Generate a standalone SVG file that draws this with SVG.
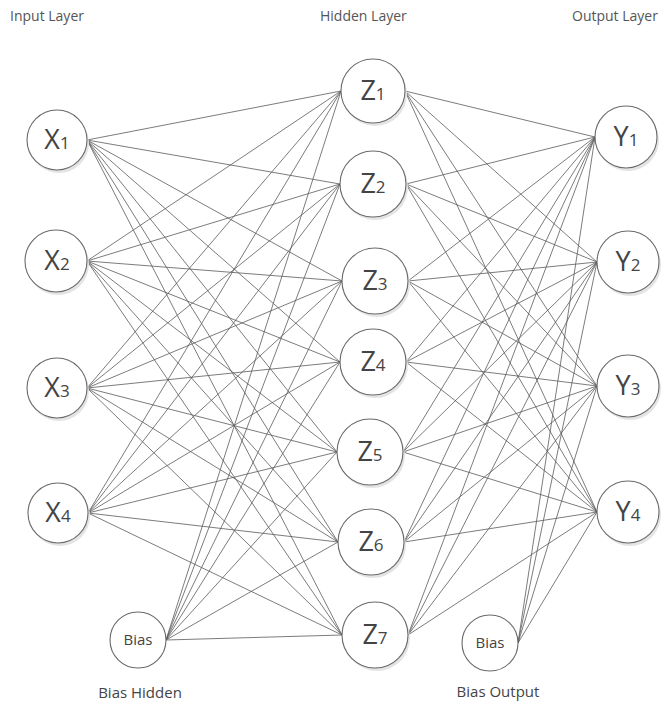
<svg xmlns="http://www.w3.org/2000/svg" width="667" height="704" viewBox="0 0 667 704">
<style>
.bg{fill:#fff}
.e{stroke:#5a5a5a;stroke-width:0.8;fill:none}
.n{fill:#fff;stroke:#6a6a6a;stroke-width:1.1}
.sh{fill:#e4e4e4}
.t{font-family:"Open Sans","Liberation Sans",sans-serif;fill:#444}
.big{font-size:27px}
.sub{font-size:17px}
.hdr{font-size:14px;fill:#555}
.bias{font-size:15px}
.cap{font-size:15px}
</style>
<rect class="bg" width="667" height="704"/>
<g id="headers">
<text class="t hdr" x="10" y="21">Input Layer</text>
<text class="t hdr" x="320" y="21">Hidden Layer</text>
<text class="t hdr" x="572" y="21">Output Layer</text>
</g>
<g id="connectors">
<line class="e" x1="87" y1="140" x2="341" y2="91"/>
<line class="e" x1="87" y1="140" x2="340" y2="184"/>
<line class="e" x1="87" y1="140" x2="342" y2="281"/>
<line class="e" x1="87" y1="140" x2="340" y2="362"/>
<line class="e" x1="87" y1="140" x2="337" y2="452"/>
<line class="e" x1="87" y1="140" x2="338" y2="542"/>
<line class="e" x1="87" y1="140" x2="342" y2="635"/>
<line class="e" x1="87" y1="261" x2="341" y2="91"/>
<line class="e" x1="87" y1="261" x2="340" y2="184"/>
<line class="e" x1="87" y1="261" x2="342" y2="281"/>
<line class="e" x1="87" y1="261" x2="340" y2="362"/>
<line class="e" x1="87" y1="261" x2="337" y2="452"/>
<line class="e" x1="87" y1="261" x2="338" y2="542"/>
<line class="e" x1="87" y1="261" x2="342" y2="635"/>
<line class="e" x1="87" y1="388" x2="341" y2="91"/>
<line class="e" x1="87" y1="388" x2="340" y2="184"/>
<line class="e" x1="87" y1="388" x2="342" y2="281"/>
<line class="e" x1="87" y1="388" x2="340" y2="362"/>
<line class="e" x1="87" y1="388" x2="337" y2="452"/>
<line class="e" x1="87" y1="388" x2="338" y2="542"/>
<line class="e" x1="87" y1="388" x2="342" y2="635"/>
<line class="e" x1="88" y1="513" x2="341" y2="91"/>
<line class="e" x1="88" y1="513" x2="340" y2="184"/>
<line class="e" x1="88" y1="513" x2="342" y2="281"/>
<line class="e" x1="88" y1="513" x2="340" y2="362"/>
<line class="e" x1="88" y1="513" x2="337" y2="452"/>
<line class="e" x1="88" y1="513" x2="338" y2="542"/>
<line class="e" x1="88" y1="513" x2="342" y2="635"/>
<line class="e" x1="166" y1="640" x2="341" y2="91"/>
<line class="e" x1="166" y1="640" x2="340" y2="184"/>
<line class="e" x1="166" y1="640" x2="342" y2="281"/>
<line class="e" x1="166" y1="640" x2="340" y2="362"/>
<line class="e" x1="166" y1="640" x2="337" y2="452"/>
<line class="e" x1="166" y1="640" x2="338" y2="542"/>
<line class="e" x1="166" y1="640" x2="342" y2="635"/>
<line class="e" x1="405" y1="91" x2="595" y2="137"/>
<line class="e" x1="405" y1="91" x2="597" y2="262"/>
<line class="e" x1="405" y1="91" x2="597" y2="386"/>
<line class="e" x1="405" y1="91" x2="597" y2="512"/>
<line class="e" x1="406" y1="184" x2="595" y2="137"/>
<line class="e" x1="406" y1="184" x2="597" y2="262"/>
<line class="e" x1="406" y1="184" x2="597" y2="386"/>
<line class="e" x1="406" y1="184" x2="597" y2="512"/>
<line class="e" x1="408" y1="281" x2="595" y2="137"/>
<line class="e" x1="408" y1="281" x2="597" y2="262"/>
<line class="e" x1="408" y1="281" x2="597" y2="386"/>
<line class="e" x1="408" y1="281" x2="597" y2="512"/>
<line class="e" x1="406" y1="362" x2="595" y2="137"/>
<line class="e" x1="406" y1="362" x2="597" y2="262"/>
<line class="e" x1="406" y1="362" x2="597" y2="386"/>
<line class="e" x1="406" y1="362" x2="597" y2="512"/>
<line class="e" x1="403" y1="452" x2="595" y2="137"/>
<line class="e" x1="403" y1="452" x2="597" y2="262"/>
<line class="e" x1="403" y1="452" x2="597" y2="386"/>
<line class="e" x1="403" y1="452" x2="597" y2="512"/>
<line class="e" x1="404" y1="542" x2="595" y2="137"/>
<line class="e" x1="404" y1="542" x2="597" y2="262"/>
<line class="e" x1="404" y1="542" x2="597" y2="386"/>
<line class="e" x1="404" y1="542" x2="597" y2="512"/>
<line class="e" x1="408" y1="635" x2="595" y2="137"/>
<line class="e" x1="408" y1="635" x2="597" y2="262"/>
<line class="e" x1="408" y1="635" x2="597" y2="386"/>
<line class="e" x1="408" y1="635" x2="597" y2="512"/>
<line class="e" x1="518" y1="643" x2="595" y2="137"/>
<line class="e" x1="518" y1="643" x2="597" y2="262"/>
<line class="e" x1="518" y1="643" x2="597" y2="386"/>
<line class="e" x1="518" y1="643" x2="597" y2="512"/>
</g>
<g id="X1"><circle class="sh" cx="59" cy="143" r="30"/><circle class="n" cx="57" cy="140" r="30"/><text class="t" x="57" y="149" text-anchor="middle"><tspan class="big">X</tspan><tspan class="sub">1</tspan></text></g>
<g id="X2"><circle class="sh" cx="58" cy="264" r="31"/><circle class="n" cx="56" cy="261" r="31"/><text class="t" x="57" y="270" text-anchor="middle"><tspan class="big">X</tspan><tspan class="sub">2</tspan></text></g>
<g id="X3"><circle class="sh" cx="59" cy="391" r="30"/><circle class="n" cx="57" cy="388" r="30"/><text class="t" x="57" y="397" text-anchor="middle"><tspan class="big">X</tspan><tspan class="sub">3</tspan></text></g>
<g id="X4"><circle class="sh" cx="60" cy="516" r="30"/><circle class="n" cx="58" cy="513" r="30"/><text class="t" x="58" y="522" text-anchor="middle"><tspan class="big">X</tspan><tspan class="sub">4</tspan></text></g>
<g id="Z1"><circle class="sh" cx="375" cy="94" r="32"/><circle class="n" cx="373" cy="91" r="32"/><text class="t" x="373" y="100" text-anchor="middle"><tspan class="big">Z</tspan><tspan class="sub">1</tspan></text></g>
<g id="Z2"><circle class="sh" cx="375" cy="187" r="33"/><circle class="n" cx="373" cy="184" r="33"/><text class="t" x="373" y="193" text-anchor="middle"><tspan class="big">Z</tspan><tspan class="sub">2</tspan></text></g>
<g id="Z3"><circle class="sh" cx="377" cy="284" r="33"/><circle class="n" cx="375" cy="281" r="33"/><text class="t" x="375" y="290" text-anchor="middle"><tspan class="big">Z</tspan><tspan class="sub">3</tspan></text></g>
<g id="Z4"><circle class="sh" cx="375" cy="365" r="33"/><circle class="n" cx="373" cy="362" r="33"/><text class="t" x="373" y="371" text-anchor="middle"><tspan class="big">Z</tspan><tspan class="sub">4</tspan></text></g>
<g id="Z5"><circle class="sh" cx="372" cy="455" r="33"/><circle class="n" cx="370" cy="452" r="33"/><text class="t" x="370" y="461" text-anchor="middle"><tspan class="big">Z</tspan><tspan class="sub">5</tspan></text></g>
<g id="Z6"><circle class="sh" cx="373" cy="545" r="33"/><circle class="n" cx="371" cy="542" r="33"/><text class="t" x="371" y="551" text-anchor="middle"><tspan class="big">Z</tspan><tspan class="sub">6</tspan></text></g>
<g id="Z7"><circle class="sh" cx="377" cy="638" r="33"/><circle class="n" cx="375" cy="635" r="33"/><text class="t" x="375" y="644" text-anchor="middle"><tspan class="big">Z</tspan><tspan class="sub">7</tspan></text></g>
<g id="Y1"><circle class="sh" cx="628" cy="140" r="31"/><circle class="n" cx="626" cy="137" r="31"/><text class="t" x="626" y="146" text-anchor="middle"><tspan class="big">Y</tspan><tspan class="sub">1</tspan></text></g>
<g id="Y2"><circle class="sh" cx="630" cy="265" r="31"/><circle class="n" cx="628" cy="262" r="31"/><text class="t" x="628" y="271" text-anchor="middle"><tspan class="big">Y</tspan><tspan class="sub">2</tspan></text></g>
<g id="Y3"><circle class="sh" cx="630" cy="389" r="31"/><circle class="n" cx="628" cy="386" r="31"/><text class="t" x="628" y="395" text-anchor="middle"><tspan class="big">Y</tspan><tspan class="sub">3</tspan></text></g>
<g id="Y4"><circle class="sh" cx="630" cy="515" r="31"/><circle class="n" cx="628" cy="512" r="31"/><text class="t" x="628" y="521" text-anchor="middle"><tspan class="big">Y</tspan><tspan class="sub">4</tspan></text></g>
<g id="BiasHidden"><circle class="n" cx="138" cy="640" r="28"/><text class="t bias" x="138" y="645" text-anchor="middle">Bias</text><text class="t cap" x="140" y="698" text-anchor="middle">Bias Hidden</text></g>
<g id="BiasOutput"><circle class="n" cx="490" cy="643" r="28"/><text class="t bias" x="490" y="648" text-anchor="middle">Bias</text><text class="t cap" x="498" y="697" text-anchor="middle">Bias Output</text></g>
</svg>
